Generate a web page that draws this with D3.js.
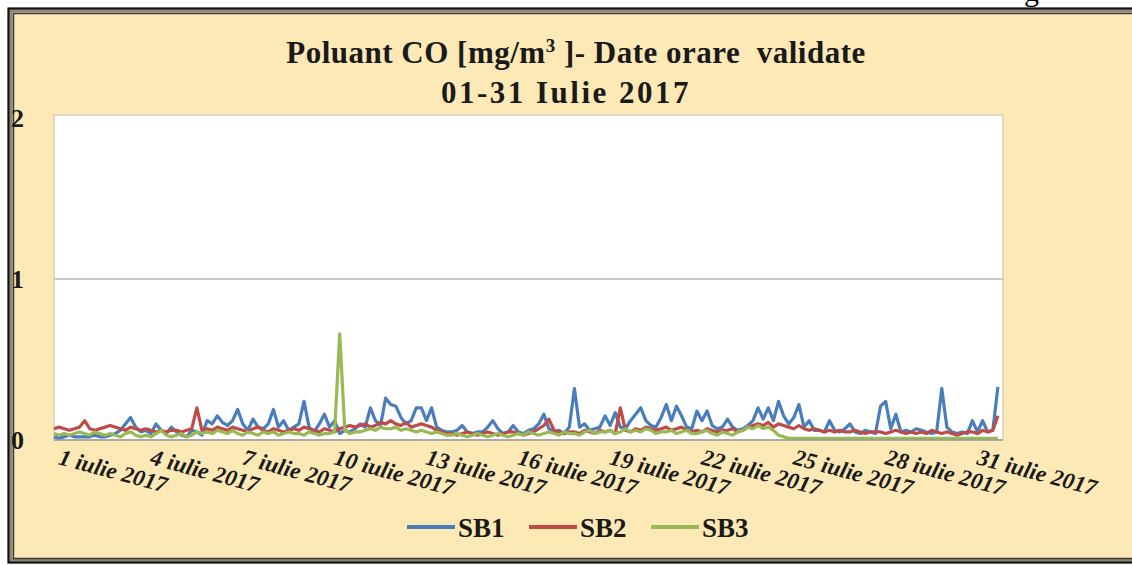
<!DOCTYPE html>
<meta charset="utf-8">
<style>
  body {
    margin: 0;
    background: #fff;
  }

  svg {
    display: block;
    font-family: "Liberation Serif", "DejaVu Serif", serif;
  }

  .axis path {
    display: none;
  }

  .axis text {
    font-family: "Liberation Serif", serif;
    font-weight: bold;
    fill: #1a1a1a;
  }
</style>

<body>
  <svg width="1132" height="565"></svg>
</body>
<script src="https://d3js.org/d3.v7.min.js"></script>
<script>
  // hourly data, one value every 4 hours (6 per day)
  var startDate = new Date(2017, 6, 1),
    stepHours = 4;

  var seriesNames = ["SB1", "SB2", "SB3"];
  var seriesColors = ["#4a7ebb", "#be4b48", "#98b954"];
  var tickDays = [1, 4, 7, 10, 13, 16, 19, 22, 25, 28, 31];
  var yTicks = [0, 1, 2];

  var sb1 = [
    0.02, 0.01, 0.02, 0.03, 0.02, 0.02, // 1
    0.02, 0.02, 0.03, 0.02, 0.02, 0.03,
    0.04, 0.06, 0.10, 0.14, 0.08, 0.05,
    0.06, 0.04, 0.10, 0.06, 0.04, 0.08, // 4
    0.05, 0.03, 0.02, 0.06, 0.05, 0.03,
    0.12, 0.10, 0.15, 0.11, 0.09, 0.12,
    0.19, 0.10, 0.06, 0.13, 0.08, 0.07, // 7
    0.10, 0.19, 0.08, 0.12, 0.06, 0.08,
    0.10, 0.24, 0.08, 0.05, 0.10, 0.16,
    0.08, 0.12, 0.04, 0.06, 0.05, 0.07, // 10
    0.10, 0.08, 0.20, 0.12, 0.09, 0.26,
    0.22, 0.21, 0.14, 0.10, 0.12, 0.20,
    0.20, 0.12, 0.20, 0.08, 0.06, 0.05, // 13
    0.05, 0.06, 0.09, 0.05, 0.04, 0.05,
    0.05, 0.08, 0.12, 0.07, 0.04, 0.05,
    0.09, 0.05, 0.04, 0.06, 0.07, 0.10, // 16
    0.16, 0.07, 0.05, 0.06, 0.04, 0.08,
    0.32, 0.08, 0.10, 0.06, 0.07, 0.08,
    0.15, 0.09, 0.17, 0.08, 0.07, 0.12, // 19
    0.16, 0.20, 0.12, 0.09, 0.08, 0.14,
    0.22, 0.12, 0.21, 0.15, 0.08, 0.07,
    0.18, 0.12, 0.18, 0.09, 0.07, 0.08, // 22
    0.13, 0.08, 0.06, 0.07, 0.09, 0.12,
    0.20, 0.13, 0.20, 0.12, 0.24, 0.15,
    0.10, 0.14, 0.22, 0.08, 0.12, 0.06, // 25
    0.06, 0.05, 0.12, 0.06, 0.05, 0.07,
    0.10, 0.05, 0.04, 0.06, 0.05, 0.04,
    0.21, 0.24, 0.07, 0.16, 0.05, 0.06, // 28
    0.05, 0.07, 0.06, 0.05, 0.04, 0.05,
    0.32, 0.08, 0.05, 0.04, 0.05, 0.04,
    0.12, 0.05, 0.12, 0.05, 0.06, 0.33 // 31
  ];

  var sb2 = [
    0.07, 0.08, 0.07, 0.06, 0.07, 0.08, // 1
    0.12, 0.07, 0.06, 0.07, 0.08, 0.09,
    0.08, 0.07, 0.06, 0.08, 0.07, 0.06,
    0.07, 0.06, 0.05, 0.06, 0.05, 0.06, // 4
    0.06, 0.05, 0.06, 0.07, 0.20, 0.06,
    0.07, 0.06, 0.08, 0.07, 0.06, 0.08,
    0.07, 0.06, 0.05, 0.07, 0.08, 0.06, // 7
    0.05, 0.07, 0.06, 0.05, 0.06, 0.07,
    0.06, 0.08, 0.07, 0.06, 0.05, 0.07,
    0.06, 0.05, 0.07, 0.08, 0.09, 0.08, // 10
    0.09, 0.10, 0.08, 0.09, 0.11, 0.10,
    0.12, 0.10, 0.09, 0.11, 0.08, 0.09,
    0.10, 0.09, 0.08, 0.06, 0.05, 0.04, // 13
    0.04, 0.03, 0.04, 0.05, 0.04, 0.03,
    0.04, 0.05, 0.04, 0.03, 0.04, 0.05,
    0.05, 0.04, 0.03, 0.04, 0.05, 0.07, // 16
    0.09, 0.13, 0.06, 0.05, 0.04, 0.05,
    0.05, 0.04, 0.06, 0.05, 0.04, 0.06,
    0.05, 0.06, 0.04, 0.20, 0.06, 0.05, // 19
    0.07, 0.06, 0.08, 0.07, 0.06, 0.07,
    0.08, 0.06, 0.07, 0.08, 0.06, 0.05,
    0.06, 0.05, 0.07, 0.06, 0.05, 0.06, // 22
    0.06, 0.07, 0.05, 0.06, 0.08, 0.09,
    0.10, 0.09, 0.11, 0.08, 0.10, 0.09,
    0.08, 0.07, 0.09, 0.07, 0.06, 0.07, // 25
    0.06, 0.05, 0.06, 0.05, 0.06, 0.05,
    0.05, 0.06, 0.05, 0.04, 0.05, 0.05,
    0.05, 0.04, 0.05, 0.06, 0.05, 0.04, // 28
    0.05, 0.04, 0.05, 0.04, 0.06, 0.05,
    0.04, 0.05, 0.04, 0.03, 0.04, 0.05,
    0.05, 0.04, 0.06, 0.05, 0.06, 0.15 // 31
  ];

  var sb3 = [
    0.04, 0.03, 0.04, 0.03, 0.04, 0.05, // 1
    0.04, 0.03, 0.05, 0.04, 0.03, 0.04,
    0.03, 0.02, 0.04, 0.05, 0.03, 0.02,
    0.03, 0.02, 0.04, 0.06, 0.03, 0.02, // 4
    0.03, 0.04, 0.02, 0.03, 0.05, 0.04,
    0.05, 0.04, 0.06, 0.05, 0.04, 0.06,
    0.04, 0.03, 0.05, 0.04, 0.03, 0.05, // 7
    0.04, 0.05, 0.03, 0.04, 0.05, 0.04,
    0.04, 0.03, 0.05, 0.04, 0.03, 0.04,
    0.04, 0.05, 0.66, 0.06, 0.04, 0.05, // 10
    0.05, 0.06, 0.07, 0.06, 0.08, 0.07,
    0.07, 0.08, 0.06, 0.07, 0.06, 0.05,
    0.06, 0.05, 0.04, 0.05, 0.04, 0.03, // 13
    0.03, 0.04, 0.03, 0.02, 0.03, 0.04,
    0.03, 0.02, 0.03, 0.04, 0.03, 0.02,
    0.03, 0.04, 0.03, 0.05, 0.04, 0.03, // 16
    0.04, 0.05, 0.04, 0.03, 0.05, 0.04,
    0.04, 0.03, 0.05, 0.06, 0.04, 0.05,
    0.05, 0.06, 0.04, 0.05, 0.07, 0.05, // 19
    0.06, 0.05, 0.07, 0.06, 0.04, 0.05,
    0.05, 0.06, 0.04, 0.05, 0.06, 0.04,
    0.04, 0.05, 0.06, 0.04, 0.03, 0.05, // 22
    0.04, 0.03, 0.05, 0.06, 0.08, 0.07,
    0.09, 0.07, 0.08, 0.06, 0.03, 0.02,
    0.01, 0.01, 0.01, 0.01, 0.01, 0.01, // 25
    0.01, 0.01, 0.01, 0.01, 0.01, 0.01,
    0.01, 0.01, 0.01, 0.01, 0.01, 0.01,
    0.01, 0.01, 0.01, 0.01, 0.01, 0.01, // 28
    0.01, 0.01, 0.01, 0.01, 0.01, 0.01,
    0.01, 0.01, 0.01, 0.01, 0.01, 0.01,
    0.01, 0.01, 0.01, 0.01, 0.01, 0.01 // 31
  ];

  var allSeries = [sb1, sb2, sb3];

  var svg = d3.select("svg");

  // beige panel with double frame (right edge runs off the picture)
  svg.append("rect")
    .attr("x", 10).attr("y", 10)
    .attr("width", 1140).attr("height", 551)
    .attr("fill", "#fde9b6")
    .attr("stroke", "#8c877a")
    .attr("stroke-width", 5);
  svg.append("rect")
    .attr("x", 8.5).attr("y", 8.5)
    .attr("width", 1140).attr("height", 554)
    .attr("fill", "none")
    .attr("stroke", "#111")
    .attr("stroke-width", 2);
  svg.append("rect")
    .attr("x", 13.5).attr("y", 13.5)
    .attr("width", 1140).attr("height", 545)
    .attr("fill", "none")
    .attr("stroke", "#3a3a3a")
    .attr("stroke-width", 1.5);

  // fragment of text above the frame
  svg.append("text")
    .attr("x", 1024).attr("y", 1)
    .style("font-size", "30px")
    .text("g");

  var plot = { left: 54, right: 1003, top: 115, bottom: 440 };

  var x = d3.scaleTime()
    .domain([startDate, new Date(2017, 7, 1)])
    .range([plot.left, plot.right]);
  var y = d3.scaleLinear()
    .domain([0, 2])
    .range([plot.bottom, 118]);

  svg.append("rect")
    .attr("x", plot.left).attr("y", plot.top)
    .attr("width", plot.right - plot.left)
    .attr("height", plot.bottom - plot.top)
    .attr("fill", "#fff")
    .attr("stroke", "#d8cfb8")
    .attr("stroke-width", 1.5);

  // grid line at 1
  svg.append("line")
    .attr("x1", plot.left).attr("x2", plot.right)
    .attr("y1", y(1)).attr("y2", y(1))
    .attr("stroke", "#b8b8b8")
    .attr("stroke-width", 1.5);

  // title
  var title = svg.append("text")
    .attr("text-anchor", "middle")
    .style("font-weight", "bold")
    .style("font-size", "31px")
    .attr("fill", "#1a1a1a");
  var t1 = title.append("tspan").attr("x", 576).attr("y", 63)
    .style("letter-spacing", "0.5px");
  t1.append("tspan").text("Poluant CO [mg/m");
  t1.append("tspan").attr("dy", -11).style("font-size", "19px").text("3");
  t1.append("tspan").attr("dy", 11).text(" ]- Date orare\u00a0 validate");
  title.append("tspan").attr("x", 566).attr("y", 103)
    .style("letter-spacing", "2.5px")
    .text("01-31 Iulie 2017");

  // lines
  var line = d3.line()
    .x(function (d, i) {
      return x(d3.timeHour.offset(startDate, i * stepHours));
    })
    .y(function (d) {
      return y(d);
    });

  svg.selectAll(".series")
    .data(allSeries)
    .enter().append("path")
    .attr("class", "series")
    .attr("fill", "none")
    .attr("stroke", function (d, i) {
      return seriesColors[i];
    })
    .attr("stroke-width", 3.2)
    .attr("stroke-linejoin", "round")
    .attr("d", line);

  // baseline
  svg.append("line")
    .attr("x1", plot.left).attr("x2", plot.right)
    .attr("y1", plot.bottom).attr("y2", plot.bottom)
    .attr("stroke", "#9a9a9a")
    .attr("stroke-width", 1.5);

  // y axis labels
  svg.append("g")
    .attr("class", "axis")
    .attr("transform", "translate(24,0)")
    .call(d3.axisLeft(y).tickValues(yTicks).tickSize(0).tickPadding(0).tickFormat(d3.format("d")))
    .selectAll("text")
    .style("font-size", "26px")
    .attr("text-anchor", "end");

  // x axis labels, slanted
  svg.append("g")
    .attr("class", "axis")
    .attr("transform", "translate(0," + plot.bottom + ")")
    .call(d3.axisBottom(x)
      .tickValues(tickDays.map(function (d) {
        return new Date(2017, 6, d);
      }))
      .tickSize(0)
      .tickFormat(function (d) {
        return d.getDate() + " iulie 2017";
      }))
    .selectAll("text")
    .style("font-size", "23px")
    .style("font-style", "italic")
    .attr("text-anchor", "start")
    .attr("dy", 0)
    .attr("y", 0)
    .attr("transform", function () {
      return "translate(3,24) rotate(15)";
    });

  // legend
  var legend = svg.append("g").attr("transform", "translate(407,527)");
  var item = legend.selectAll("g")
    .data(seriesNames)
    .enter().append("g")
    .attr("transform", function (d, i) {
      return "translate(" + i * 122 + ",0)";
    });
  item.append("line")
    .attr("x1", 0).attr("x2", 48)
    .attr("stroke", function (d, i) {
      return seriesColors[i];
    })
    .attr("stroke-width", 4);
  item.append("text")
    .attr("x", 51).attr("y", 10)
    .style("font-weight", "bold")
    .style("font-size", "27px")
    .attr("fill", "#1a1a1a")
    .text(function (d) {
      return d;
    });
</script>
